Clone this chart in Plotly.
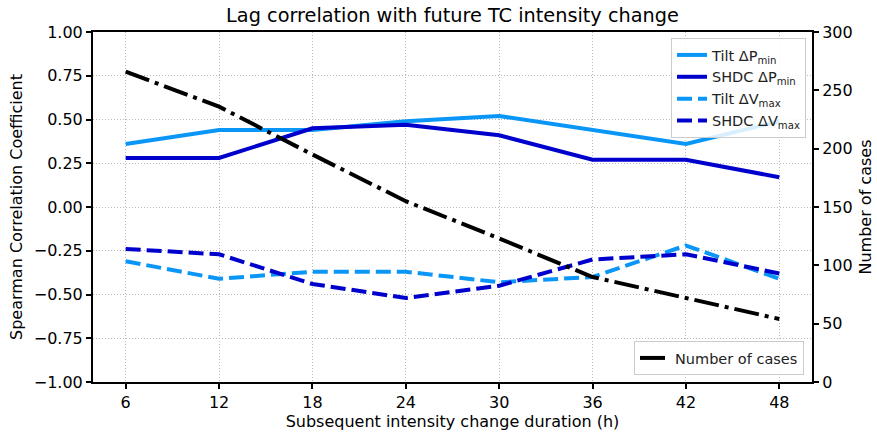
import plotly.graph_objects as go

# Lead time of the subsequent intensity change (hours)
durations = [6, 12, 18, 24, 30, 36, 42, 48]

# Spearman correlation coefficients
tilt_dpmin = [0.36, 0.44, 0.44, 0.49, 0.52, 0.44, 0.36, 0.49]
shdc_dpmin = [0.28, 0.28, 0.45, 0.47, 0.41, 0.27, 0.27, 0.17]
tilt_dvmax = [-0.31, -0.41, -0.37, -0.37, -0.43, -0.40, -0.22, -0.41]
shdc_dvmax = [-0.24, -0.27, -0.44, -0.52, -0.45, -0.30, -0.27, -0.38]

# Sample size at each lead time
n_cases = [266, 236, 195, 155, 123, 90, 72, 54]

corr_ticks = [-1.0, -0.75, -0.5, -0.25, 0.0, 0.25, 0.5, 0.75, 1.0]
case_ticks = [0, 50, 100, 150, 200, 250, 300]

LIGHT = "#0a96f7"
DARK = "#0000cd"
FONT = "DejaVu Sans, Verdana, sans-serif"
LABEL_SIZE = 16
LW = 4
DASHED = "15px,6px"
DASHDOT = "25px,6px,4px,6px"
GRID = dict(showgrid=True, gridcolor="#b8b8b8", gridwidth=1, griddash="1px,2px")

fig = go.Figure()

series = [
    ("Tilt ΔP<sub>min</sub>", tilt_dpmin, LIGHT, "solid"),
    ("SHDC ΔP<sub>min</sub>", shdc_dpmin, DARK, "solid"),
    ("Tilt ΔV<sub>max</sub>", tilt_dvmax, LIGHT, DASHED),
    ("SHDC ΔV<sub>max</sub>", shdc_dvmax, DARK, DASHED),
]
for name, vals, color, dash in series:
    fig.add_trace(go.Scatter(
        x=durations, y=vals, name=name, mode="lines",
        line=dict(color=color, width=LW, dash=dash),
        legend="legend", yaxis="y",
    ))

fig.add_trace(go.Scatter(
    x=durations, y=n_cases, name="Number of cases", mode="lines",
    line=dict(color="black", width=LW, dash=DASHDOT),
    legend="legend2", yaxis="y2",
))

axis_common = dict(
    showline=True, linecolor="black", linewidth=2,
    ticks="outside", ticklen=5, tickwidth=1.5, tickcolor="black",
    tickfont=dict(family=FONT, size=LABEL_SIZE, color="black"),
    zeroline=False, automargin=False,
)
title_font = dict(family=FONT, size=LABEL_SIZE, color="black")

fig.update_layout(
    width=877, height=433,
    margin=dict(l=93, r=65, t=32, b=51),
    paper_bgcolor="white", plot_bgcolor="white",
    font=dict(family=FONT, color="black"),
    title=dict(
        text="Lag correlation with future TC intensity change",
        font=dict(family=FONT, size=19.3, color="black"),
        x=0.5, xref="paper", xanchor="center",
        y=1 - 15 / 433, yref="container", yanchor="middle",
    ),
    xaxis=dict(
        **axis_common, **GRID,
        mirror=True,
        range=[3.9, 50.1],
        tickvals=durations,
        ticktext=[str(d) for d in durations],
        title=dict(text="Subsequent intensity change duration (h)",
                   font=title_font, standoff=3),
    ),
    yaxis=dict(
        **axis_common, **GRID,
        range=[-1, 1],
        tickvals=corr_ticks,
        tickformat=".2f",
        title=dict(text="Spearman Correlation Coefficient",
                   font=title_font, standoff=7),
    ),
    yaxis2=dict(
        **axis_common,
        overlaying="y", side="right",
        range=[0, 300],
        tickvals=case_ticks,
        showgrid=False,
        title=dict(text="Number of cases", font=title_font, standoff=8),
    ),
    legend=dict(
        x=(806 - 93) / 719, xanchor="right",
        y=(382 - 38) / 350, yanchor="top",
        bgcolor="rgba(255,255,255,0.85)",
        bordercolor="#cccccc", borderwidth=1,
        font=dict(family=FONT, size=14.5, color="#222222"),
        tracegroupgap=0,
    ),
    legend2=dict(
        x=(804 - 93) / 719, xanchor="right",
        y=(382 - 375) / 350, yanchor="bottom",
        bgcolor="rgba(255,255,255,0.85)",
        bordercolor="#cccccc", borderwidth=1,
        font=dict(family=FONT, size=14.5, color="#222222"),
    ),
    showlegend=True,
)

fig.write_html("out.html")
